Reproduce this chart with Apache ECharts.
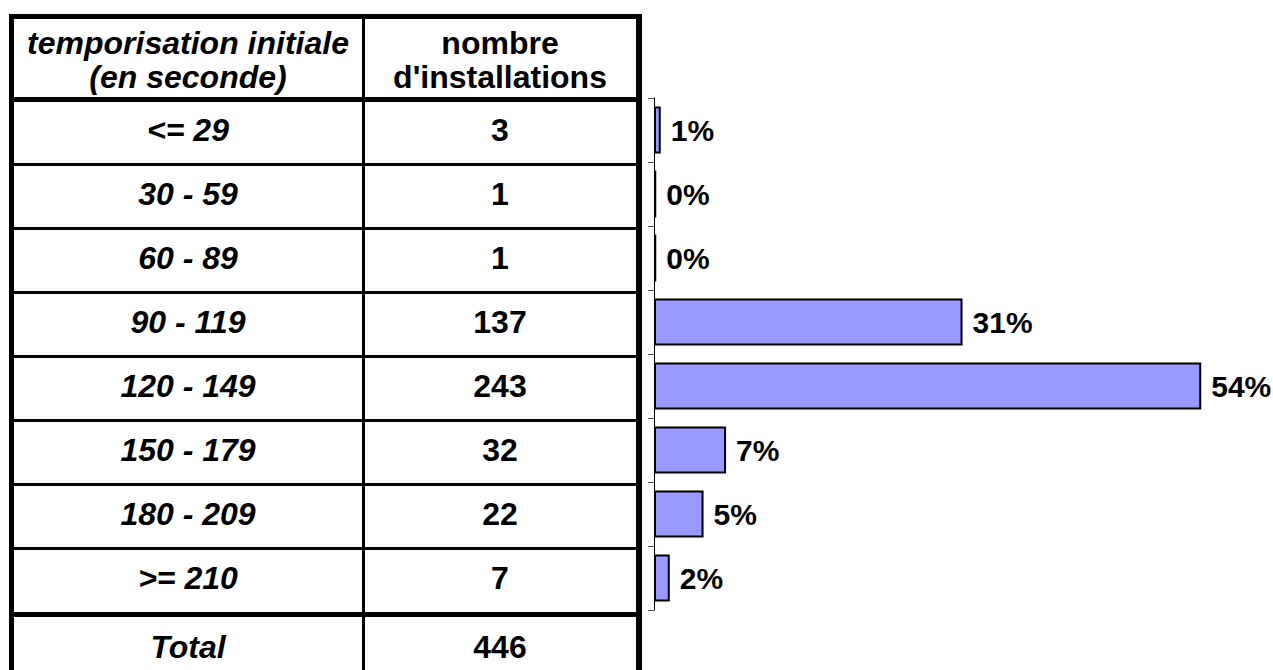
<!DOCTYPE html>
<html>
<head>
<meta charset="utf-8">
<title>temporisation initiale</title>
<script src="https://cdn.jsdelivr.net/npm/echarts@6/dist/echarts.min.js"></script>
<style>
  html, body { margin: 0; padding: 0; background: #fff; }
  #chart { width: 1273px; height: 670px; }
</style>
</head>
<body>
<div id="chart"></div>
<script>
var ranges = ['<= 29', '30 - 59', '60 - 89', '90 - 119', '120 - 149', '150 - 179', '180 - 209', '>= 210'];
var counts = [3, 1, 1, 137, 243, 32, 22, 7];
var percents = ['1%', '0%', '0%', '31%', '54%', '7%', '5%', '2%'];
var headers = ['temporisation initiale\n(en seconde)', 'nombre\nd\'installations'];
var totalLabel = 'Total';
var totalValue = 446;

var FONT = '"Liberation Sans", Arial, Helvetica, sans-serif';
var gridTop = 98, rowH = 64, axisX = 654;
var col1 = 188, col2 = 500;
var tableSize = 32;

// traits du tableau
var lines = [];
function bar(x, y, w, h) {
  lines.push({ type: 'rect', shape: { x: x, y: y, width: w, height: h }, style: { fill: '#000' }, silent: true });
}
bar(9, 14, 5, 700);      // bord gauche
bar(9, 14, 633, 5);      // bord haut
bar(636, 14, 6, 700);    // bord droit
bar(362, 14, 3, 700);    // separation colonnes
bar(9, gridTop - 1, 633, 5); // sous l'entete
for (var i = 1; i < ranges.length; i++) {
  bar(9, gridTop + rowH * i + 1, 633, 3);
}
bar(9, gridTop + rowH * ranges.length + 2, 633, 5); // avant total

var texts = [
  { type: 'text', x: col1, y: 60, style: { text: headers[0], font: 'italic bold ' + tableSize + 'px ' + FONT, fill: '#000', align: 'center', verticalAlign: 'middle', lineHeight: 34 } },
  { type: 'text', x: col2, y: 60, style: { text: headers[1], font: 'bold ' + tableSize + 'px ' + FONT, fill: '#000', align: 'center', verticalAlign: 'middle', lineHeight: 34 } },
  { type: 'text', x: col1, y: 647, style: { text: totalLabel, font: 'italic bold ' + tableSize + 'px ' + FONT, fill: '#000', align: 'center', verticalAlign: 'middle' } },
  { type: 'text', x: col2, y: 647, style: { text: String(totalValue), font: 'bold ' + tableSize + 'px ' + FONT, fill: '#000', align: 'center', verticalAlign: 'middle' } }
];

var chart = echarts.init(document.getElementById('chart'), null, { renderer: 'svg' });
chart.setOption({
  animation: false,
  backgroundColor: '#fff',
  grid: { left: axisX, top: gridTop, width: 563, height: rowH * ranges.length, containLabel: false },
  xAxis: { type: 'value', min: 0, max: 250, show: false },
  yAxis: [{
    type: 'category',
    inverse: true,
    data: ranges,
    axisLine: { show: true, lineStyle: { color: '#000', width: 1 } },
    axisTick: { show: true, length: 6, lineStyle: { color: '#555' } },
    axisLabel: {
      interval: 0, margin: axisX - col1, align: 'center',
      fontFamily: FONT, fontSize: tableSize, fontWeight: 'bold', fontStyle: 'italic', color: '#000'
    }
  }, {
    type: 'category',
    inverse: true,
    position: 'left',
    data: counts.map(String),
    axisLine: { show: false },
    axisTick: { show: false },
    axisLabel: {
      interval: 0, margin: axisX - col2, align: 'center',
      fontFamily: FONT, fontSize: tableSize, fontWeight: 'bold', color: '#000'
    }
  }],
  series: [{
    type: 'bar',
    data: counts,
    barWidth: 47,
    itemStyle: { color: '#9999FF', borderColor: '#000', borderWidth: 2 },
    label: {
      show: true, position: 'right', distance: 10,
      formatter: function (p) { return percents[p.dataIndex]; },
      fontFamily: FONT, fontSize: 30, fontWeight: 'bold', color: '#000'
    }
  }],
  graphic: lines.concat(texts)
});
</script>
</body>
</html>
